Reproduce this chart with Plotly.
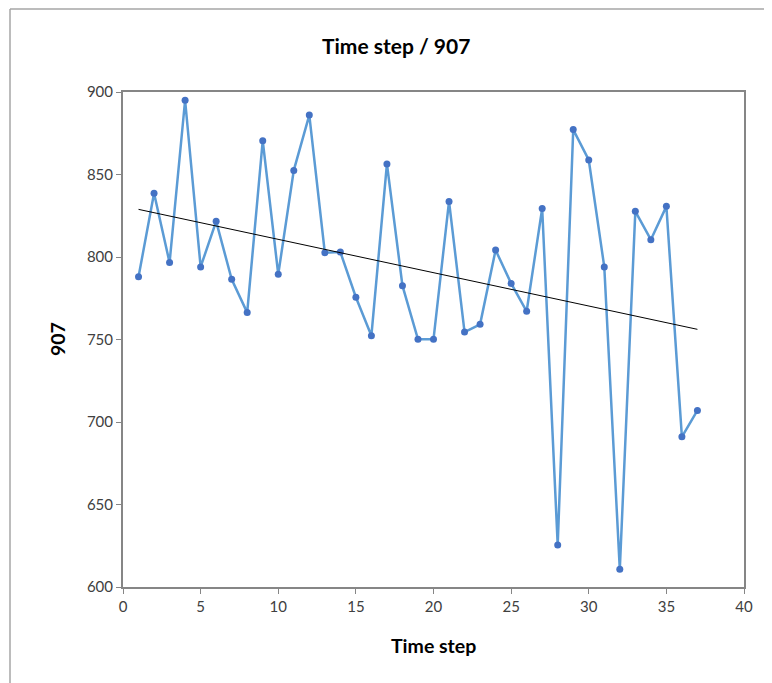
import numpy as np
import plotly.graph_objects as go

time_step = list(range(1, 38))
values = [788, 838.6, 796.6, 895, 794, 821.6, 786.5, 766.3, 870.5, 789.5,
          852.5, 886, 802.6, 803, 775.6, 752.3, 856.4, 782.6, 750.1, 750.1,
          833.7, 754.5, 759.2, 804.2, 784, 767.1, 829.4, 625.5, 877.2, 858.8,
          794, 610.7, 827.7, 810.5, 830.7, 691, 707]

x_ticks = [0, 5, 10, 15, 20, 25, 30, 35, 40]
y_ticks = [600, 650, 700, 750, 800, 850, 900]

slope, intercept = np.polyfit(time_step, values, 1)
trend_x = [time_step[0], time_step[-1]]
trend_y = [slope * x + intercept for x in trend_x]

OFF = 8  # browser default body margin
W, H = 772 - OFF, 683 - OFF
L, R, T, B = 123 - OFF, 28, 92 - OFF, 96
pw, ph = W - L - R, H - T - B

def px(xp):
    return (xp - OFF - L) / pw

def py(yp):
    return 1 - (yp - OFF - T) / ph

fig = go.Figure()
fig.add_trace(go.Scatter(
    x=time_step, y=values, mode="lines+markers",
    line=dict(color="#5B9BD5", width=2.5),
    marker=dict(color="#4472C4", size=7),
    showlegend=False))
fig.add_trace(go.Scatter(
    x=trend_x, y=trend_y, mode="lines",
    line=dict(color="black", width=1),
    showlegend=False))

axis_common = dict(
    showgrid=False, zeroline=False, showline=True, linecolor="#868686",
    linewidth=2, mirror=True, ticks="outside", ticklen=5, tickwidth=1,
    tickcolor="#868686", tickfont=dict(family="Lato, sans-serif", size=15, color="#404040"))

fig.update_xaxes(range=[0, 40], tickvals=x_ticks, **axis_common)
fig.update_yaxes(range=[600, 900], tickvals=y_ticks, **axis_common)

fig.update_layout(
    width=W, height=H,
    margin=dict(l=L, r=R, t=T, b=B),
    paper_bgcolor="white", plot_bgcolor="white",
    font=dict(family="Lato, sans-serif"),
    annotations=[
        dict(text="<b>Time step / 907</b>", x=px(396), y=py(45), xref="paper", yref="paper",
             showarrow=False, font=dict(size=21, color="black"), xanchor="center", yanchor="middle"),
        dict(text="<b>Time step</b>", x=px(433), y=py(645), xref="paper", yref="paper",
             showarrow=False, font=dict(size=19.5, color="black"), xanchor="center", yanchor="middle"),
        dict(text="<b>907</b>", x=px(57), y=py(339), xref="paper", yref="paper",
             showarrow=False, font=dict(size=19.5, color="black"), textangle=-90,
             xanchor="center", yanchor="middle"),
    ],
    shapes=[
        dict(type="line", xref="paper", yref="paper", x0=px(10), x1=px(772), y0=py(9), y1=py(9),
             line=dict(color="#A6A6A6", width=1.5)),
        dict(type="line", xref="paper", yref="paper", x0=px(10), x1=px(10), y0=py(9), y1=py(683),
             line=dict(color="#A6A6A6", width=1.5)),
    ],
)

fig.write_html("out.html")
